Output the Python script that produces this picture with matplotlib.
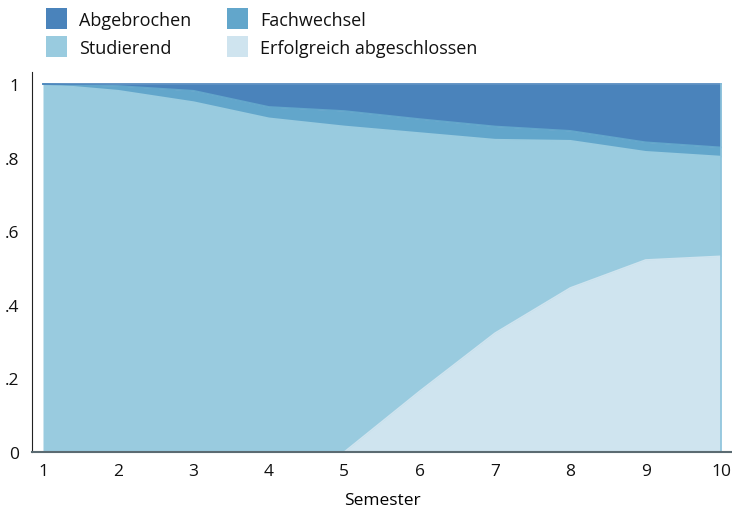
import matplotlib
matplotlib.use("Agg")
import matplotlib.pyplot as plt
from matplotlib.patches import Rectangle

plt.rcParams['font.family'] = ['Open Sans', 'DejaVu Sans']

semester = [1, 2, 3, 4, 5, 6, 7, 8, 9, 10]
erfolgreich = [0.0, 0.0, 0.0, 0.0, 0.0, 0.165, 0.323, 0.446, 0.522, 0.532]
studierend = [1.0, 0.982, 0.951, 0.907, 0.885, 0.702, 0.526, 0.400, 0.294, 0.271]
fachwechsel = [0.0, 0.013, 0.031, 0.031, 0.042, 0.038, 0.036, 0.027, 0.026, 0.025]
abgebrochen = [0.0, 0.005, 0.018, 0.062, 0.073, 0.095, 0.115, 0.127, 0.158, 0.172]

series = [
    ("Erfolgreich abgeschlossen", erfolgreich, "#cfe4ef"),
    ("Studierend", studierend, "#99cbdf"),
    ("Fachwechsel", fachwechsel, "#62a6cb"),
    ("Abgebrochen", abgebrochen, "#4a83bb"),
]
colors = {name: col for name, _, col in series}

W, H = 732, 510
fig = plt.figure(figsize=(W / 100, H / 100), dpi=100)
ax = fig.add_axes([32 / W, 1 - 453 / H, 1 - 32 / W, (453 - 73) / H])

base = [0.0] * len(semester)
for name, vals, col in series:
    top = [b + v for b, v in zip(base, vals)]
    ax.fill_between(semester, base, top, color=col, linewidth=0)
    ax.plot(semester, top, color=col, linewidth=1.2)
    base = top
ax.plot([semester[-1], semester[-1]], [0, 1], color="#8ec4dc", linewidth=1.2)

ax.set_xlim(0.854, 10.146)
ax.set_ylim(0, 1.033)
ax.set_xticks(semester)
ax.set_xticklabels([str(s) for s in semester])
ax.set_yticks([0, 0.2, 0.4, 0.6, 0.8, 1.0])
ax.set_yticklabels(["0", ".2", ".4", ".6", ".8", "1"])
ax.tick_params(axis="both", length=0, labelsize=12.5, colors="#111111")
ax.tick_params(axis="x", pad=8)
ax.tick_params(axis="y", pad=9)
ax.set_xlabel("Semester", fontsize=12.5, labelpad=9)

ax.spines["top"].set_visible(False)
ax.spines["right"].set_visible(False)
ax.spines["left"].set_color("#222222")
ax.spines["bottom"].set_color("#5b6b72")
ax.spines["bottom"].set_linewidth(1.5)

# two-column legend in pixel layout: (label, square left x, square top y)
legend_items = [
    ("Abgebrochen", 46, 9),
    ("Fachwechsel", 227, 9),
    ("Studierend", 46, 37),
    ("Erfolgreich abgeschlossen", 227, 37),
]
sq = 21
for label, x0, y0 in legend_items:
    fig.add_artist(Rectangle((x0 / W, 1 - (y0 + sq) / H), sq / W, sq / H,
                             transform=fig.transFigure,
                             facecolor=colors[label], edgecolor="none"))
    fig.text((x0 + sq + 12) / W, 1 - (y0 + sq / 2) / H, label,
             fontsize=13, color="#111111", va="center_baseline", ha="left")

fig.savefig("out.png", dpi=100)
